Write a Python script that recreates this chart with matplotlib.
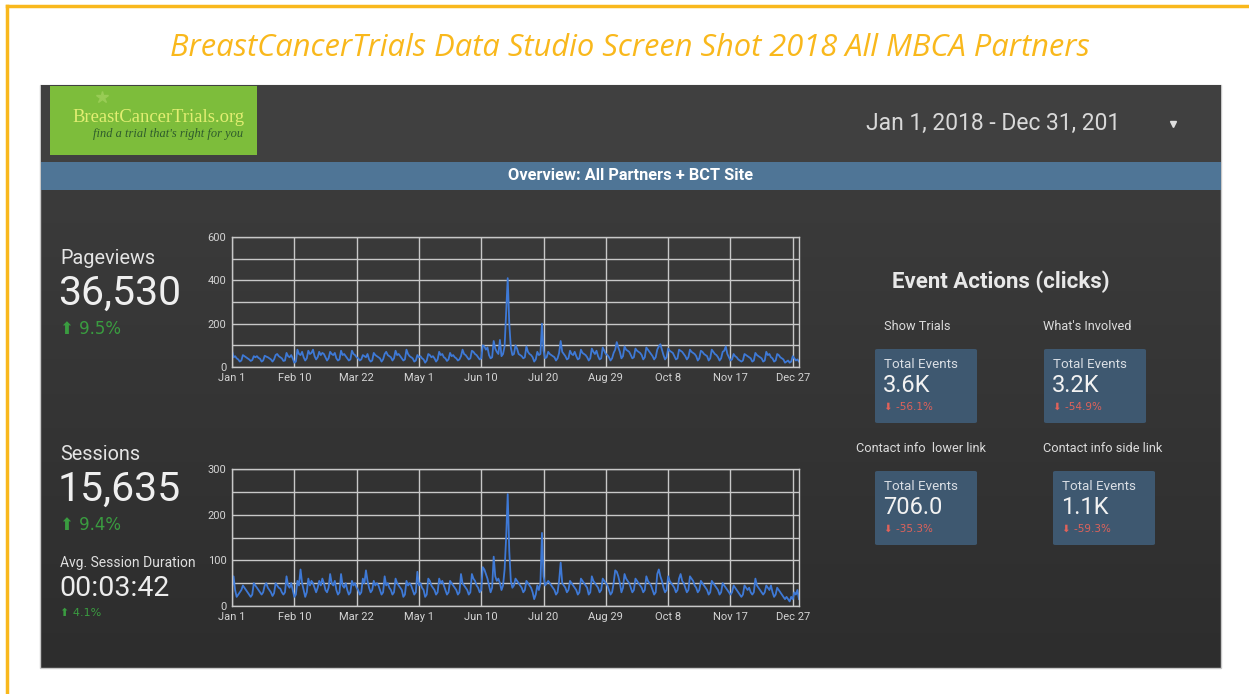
import matplotlib.pyplot as plt
import numpy as np
from matplotlib.patches import Rectangle, FancyBboxPatch

# daily values (Jan 1 2018 .. Dec 31 2018)
pageviews = [
    75, 45, 50, 40, 35, 25, 30,   55, 50, 45, 40, 35, 28, 32,   50, 45, 50, 42, 38, 25, 30,
    52, 48, 45, 40, 35, 25, 35,   55, 60, 50, 45, 40, 28, 30,   65, 50, 45, 55, 40, 20, 25,
    80, 60, 55, 70, 45, 30, 40,   75, 60, 65, 80, 50, 35, 45,   70, 55, 65, 60, 45, 30, 40,
    70, 60, 55, 65, 40, 30, 35,   75, 55, 60, 50, 40, 30, 35,   75, 60, 55, 45, 40, 30, 35,
    55, 50, 45, 60, 35, 25, 30,   65, 55, 50, 45, 40, 25, 35,   60, 70, 55, 50, 45, 30, 40,
    75, 55, 60, 50, 40, 30, 35,   80, 60, 50, 45, 40, 25, 30,   55, 45, 50, 40, 35, 20, 30,
    60, 55, 45, 50, 40, 25, 35,   70, 55, 60, 45, 40, 28, 35,   65, 50, 55, 45, 40, 30, 35,
    50, 80, 60, 55, 45, 35, 40,   75, 70, 60, 55, 45, 35, 40,   100, 95, 80, 90, 55, 40, 45,
    120, 85, 70, 60, 125, 50, 60, 95, 250, 410, 200, 90, 55, 60, 100, 85, 60, 55, 50, 40, 45,
    95, 70, 60, 55, 45, 25, 35,   70, 55, 60, 200, 75, 40, 45,  70, 60, 55, 50, 45, 30, 40,
    65, 120, 70, 60, 50, 35, 40,  75, 60, 55, 70, 50, 35, 40,   80, 65, 60, 55, 45, 30, 40,
    85, 70, 60, 75, 50, 35, 40,   90, 75, 60, 55, 45, 30, 40,   65, 80, 115, 90, 70, 40, 50,
    95, 80, 75, 70, 55, 40, 45,   85, 75, 70, 65, 55, 35, 45,   90, 80, 70, 60, 50, 35, 45,
    80, 95, 105, 80, 55, 35, 45,  85, 75, 70, 65, 50, 35, 40,   80, 75, 70, 60, 50, 35, 45,
    80, 70, 65, 60, 50, 30, 40,   75, 70, 60, 55, 50, 30, 40,   80, 70, 60, 55, 45, 30, 40,
    70, 75, 95, 60, 45, 30, 35,   60, 50, 45, 35, 30, 25, 30,   60, 55, 50, 45, 40, 25, 30,
    65, 55, 50, 45, 40, 25, 30,   70, 55, 60, 45, 40, 25, 30,   60, 55, 45, 40, 35, 20, 25,
    30, 20, 25, 50, 40, 30, 35,   25,
]
sessions = [
    40, 65, 35, 20, 25, 30, 35,   45, 40, 35, 30, 25, 20, 25,   50, 45, 40, 35, 30, 25, 30,
    45, 50, 40, 35, 30, 22, 28,   50, 45, 40, 38, 30, 25, 30,   65, 45, 40, 50, 35, 20, 25,
    55, 45, 80, 50, 35, 20, 30,   60, 45, 55, 50, 40, 30, 40,   55, 45, 60, 50, 35, 30, 40,
    70, 50, 45, 55, 35, 25, 30,   70, 45, 40, 50, 35, 25, 30,   55, 45, 50, 40, 35, 25, 30,
    60, 50, 78, 55, 40, 30, 35,   55, 45, 50, 45, 35, 25, 30,   65, 45, 50, 40, 35, 25, 30,
    60, 50, 45, 40, 35, 20, 25,   55, 45, 50, 45, 35, 25, 30,   75, 45, 50, 40, 35, 20, 25,
    60, 55, 45, 40, 35, 25, 30,   60, 50, 55, 45, 35, 25, 30,   55, 50, 45, 40, 35, 25, 30,
    70, 50, 45, 40, 35, 25, 30,   70, 60, 55, 45, 40, 30, 35,   85, 80, 70, 60, 45, 30, 40,
    108, 65, 55, 60, 50, 35, 45,  80, 150, 245, 120, 55, 40, 45, 60, 55, 50, 45, 40, 30, 35,
    55, 50, 45, 40, 30, 15, 25,   45, 35, 50, 160, 65, 45, 50,  55, 50, 45, 40, 35, 25, 30,
    55, 95, 50, 45, 40, 30, 35,   55, 50, 45, 40, 35, 25, 30,   60, 55, 50, 45, 40, 25, 30,
    65, 55, 50, 45, 40, 30, 35,   60, 55, 50, 45, 35, 25, 30,   50, 78, 75, 65, 50, 30, 40,
    70, 60, 55, 50, 40, 30, 35,   60, 55, 50, 45, 40, 30, 35,   65, 55, 50, 45, 35, 25, 30,
    70, 80, 65, 55, 40, 30, 35,   65, 55, 50, 45, 40, 30, 35,   60, 70, 55, 50, 40, 30, 35,
    65, 60, 55, 45, 40, 30, 35,   55, 50, 45, 40, 35, 25, 30,   55, 50, 45, 40, 35, 25, 30,
    50, 45, 40, 35, 30, 25, 30,   45, 40, 35, 30, 25, 20, 25,   45, 40, 35, 40, 30, 25, 30,
    60, 45, 40, 35, 30, 25, 30,   45, 40, 35, 45, 30, 20, 25,   40, 35, 30, 25, 20, 15, 20,
    15, 10, 20, 15, 30, 25, 35,   15,
]
tick_days = [0, 40, 80, 120, 160, 200, 240, 280, 320, 360]
tick_labels = ['Jan 1', 'Feb 10', 'Mar 22', 'May 1', 'Jun 10', 'Jul 20',
               'Aug 29', 'Oct 8', 'Nov 17', 'Dec 27']

kpi_names = ['Pageviews', 'Sessions']
kpi_values = ['36,530', '15,635']
kpi_changes = ['9.5%', '9.4%']

event_names = ['Show Trials', "What's Involved", 'Contact info  lower link', 'Contact info side link']
event_values = ['3.6K', '3.2K', '706.0', '1.1K']
event_changes = ['-56.1%', '-54.9%', '-35.3%', '-59.3%']

W, H = 1249, 694
plt.rcParams['font.family'] = ['Roboto', 'DejaVu Sans']
fig = plt.figure(figsize=(W / 100, H / 100), dpi=100)
fig.patch.set_facecolor('white')


def fx(x):
    return x / W


def fy(y):
    return 1 - y / H


def box(x0, y0, x1, y1):
    return [fx(x0), fy(y1), fx(x1) - fx(x0), fy(y0) - fy(y1)]


yellow = '#f9b81c'
fig.add_artist(plt.Line2D([fx(7), fx(1249)], [fy(6), fy(6)], color=yellow, lw=2.5))
fig.add_artist(plt.Line2D([fx(7), fx(7)], [fy(6), fy(694)], color=yellow, lw=2.5))
fig.text(fx(630), fy(48), 'BreastCancerTrials Data Studio Screen Shot 2018 All MBCA Partners',
         color=yellow, fontsize=22.2, style='italic', family='Open Sans',
         ha='center', va='center')

# dashboard background (slight vertical gradient)
bg = fig.add_axes(box(40, 85, 1221, 668))
grad = np.linspace(0, 1, 200).reshape(-1, 1)
top = np.array([0x3e, 0x3e, 0x3e]) / 255
bot = np.array([0x2d, 0x2d, 0x2d]) / 255
img = top + (bot - top) * grad[:, :, None]
bg.imshow(img, aspect='auto', extent=[0, 1, 0, 1])
bg.set_xlim(0, 1)
bg.set_ylim(0, 1)
bg.axis('off')
fig.add_artist(Rectangle((fx(40), fy(668)), fx(1221) - fx(40), fy(85) - fy(668),
                         transform=fig.transFigure, fill=False, ec='#c8c8c8', lw=1))
fig.add_artist(Rectangle((fx(41), fy(162)), fx(1221) - fx(41), fy(85) - fy(162),
                         transform=fig.transFigure, color='#404040', lw=0))

# logo
fig.add_artist(Rectangle((fx(50), fy(155)), fx(257) - fx(50), fy(86) - fy(155),
                         transform=fig.transFigure, color='#7dbd3b', lw=0))
fig.add_artist(plt.Line2D([fx(102)], [fy(97)], marker='*', ms=9, color='#98cc55',
                          transform=fig.transFigure))
fig.text(fx(72), fy(117), 'BreastCancerTrials.org', color='#e2ee72', fontsize=13.4,
         family='Liberation Serif', va='center')
fig.text(fx(93), fy(134), "find a trial that's right for you", color='#2f5c2c',
         fontsize=8.9, family='Liberation Serif', style='italic', va='center')

fig.text(fx(866), fy(123), 'Jan 1, 2018 - Dec 31, 201', color='#d9d9d9', fontsize=16.5,
         va='center')
fig.add_artist(plt.Line2D([fx(1173)], [fy(124)], marker='v', ms=5, color='#e0e0e0',
                          transform=fig.transFigure))

# overview bar
fig.add_artist(Rectangle((fx(41), fy(190)), fx(1221) - fx(41), fy(162) - fy(190),
                         transform=fig.transFigure, color='#4f7596', lw=0))
fig.text(fx(631), fy(176), 'Overview: All Partners + BCT Site', color='white',
         fontsize=11.8, weight='bold', ha='center', va='center')

# KPI scorecards
green = '#3a9c40'
for name, val, chg, y0 in zip(kpi_names, kpi_values, kpi_changes, [258, 454]):
    fig.text(fx(60), fy(y0), name, color='#e4e4e4', fontsize=14.3, va='center')
    fig.text(fx(58), fy(y0 + 35), val, color='#efefef', fontsize=29.5, va='center')
    fig.text(fx(60), fy(y0 + 71), '\u2b06 ' + chg, color=green, fontsize=12, va='center',
             family=['DejaVu Sans'])
fig.text(fx(60), fy(563), 'Avg. Session Duration', color='#e0e0e0', fontsize=10, va='center')
fig.text(fx(59), fy(588), '00:03:42', color='#ececec', fontsize=20.5, va='center')
fig.text(fx(60), fy(613), '\u2b06 4.1%', color=green, fontsize=8, va='center',
         family=['DejaVu Sans'])

# line charts
days = np.arange(len(pageviews))
grid_c = '#c8c8c8'
for series, (y0, y1), ymax, step, lab_step in [(pageviews, (237, 367), 600, 100, 200),
                                               (sessions, (469, 606), 300, 50, 100)]:
    ax = fig.add_axes(box(232, y0, 799, y1))
    ax.set_facecolor('none')
    ax.plot(days, series, color='#3e79d6', lw=1.3)
    ax.set_xlim(0, 364)
    ax.set_ylim(0, ymax)
    ax.set_xticks(tick_days)
    ax.set_xticklabels(tick_labels)
    ax.set_yticks(np.arange(0, ymax + 1, lab_step))
    ax.set_yticks(np.arange(0, ymax + 1, step), minor=True)
    ax.grid(True, which='both', color=grid_c, lw=1.0)
    ax.tick_params(which='both', length=0, colors='#d4d4d4', labelsize=8, pad=4)
    for s in ax.spines.values():
        s.set_color(grid_c)
        s.set_linewidth(1.0)

# event actions
fig.text(fx(1001), fy(282), 'Event Actions (clicks)', color='#e8e8e8', fontsize=16,
         weight='bold', ha='center', va='center')
label_pos = [(884, 327), (1043, 327), (856, 448), (1043, 448)]
card_pos = [(875, 349), (1044, 349), (875, 471), (1053, 471)]
for name, val, chg, (lx, ly), (cx, cy) in zip(event_names, event_values, event_changes,
                                              label_pos, card_pos):
    fig.text(fx(lx), fy(ly), name, color='#dcdcdc', fontsize=9.2, va='center')
    fig.add_artist(FancyBboxPatch((fx(cx), fy(cy + 74)), fx(102) - fx(0), fy(0) - fy(74),
                                  boxstyle='round,pad=0,rounding_size=0.002',
                                  transform=fig.transFigure, color='#3e5870', lw=0))
    fig.text(fx(cx + 9), fy(cy + 16), 'Total Events', color='#d9dee4', fontsize=9.6, va='center')
    fig.text(fx(cx + 8), fy(cy + 37), val, color='#f2f2f2', fontsize=17, va='center')
    fig.text(fx(cx + 9), fy(cy + 58), '\u2b07 ' + chg, color='#e0625a', fontsize=7.5,
             va='center', family=['DejaVu Sans'])

fig.savefig('out.png', dpi=100, facecolor='white')
